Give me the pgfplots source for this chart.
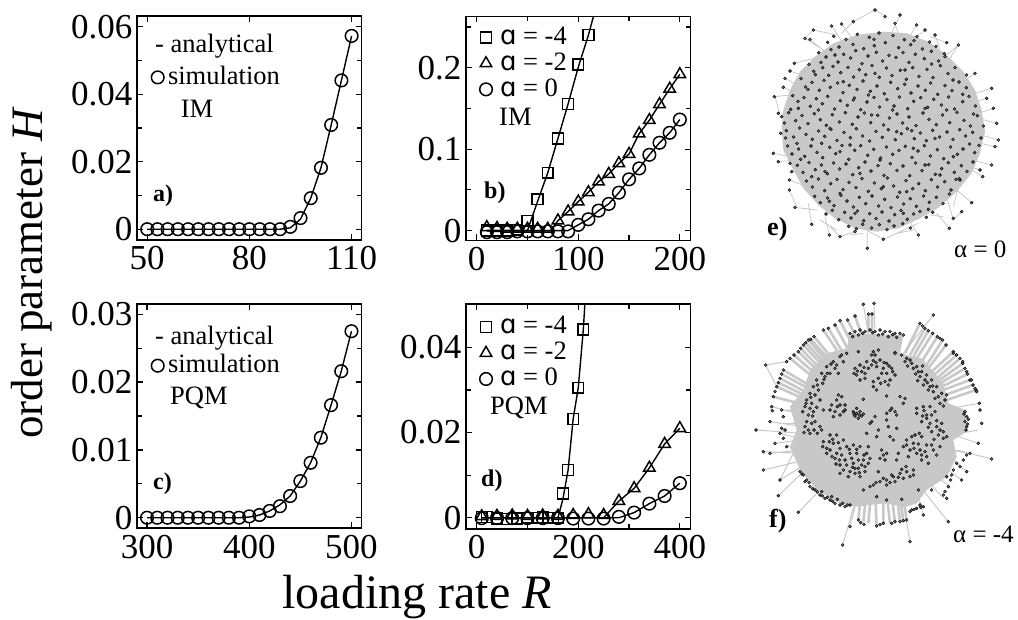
\documentclass[border=0pt]{standalone}
\usepackage{pgfplots}
\pgfplotsset{compat=1.18}
\usepackage{fontspec}
\setmainfont{Liberation Serif}
\newfontfamily\djv{DejaVu Sans}
\newcommand{\fs}[1]{\fontsize{#1}{#1}\selectfont}
\newcommand{\alp}{{\djv\fontsize{26}{26}\selectfont ɑ}}
\pgfplotsset{
 panel/.style={scale only axis,width=224.5pt,height=224pt,axis line style={line width=1.7pt},
  tick style={black,line width=1.2pt},major tick length=6pt,minor tick length=5pt,tick align=inside,
  xtick pos=both,ytick pos=both,clip=true,scaled ticks=false,
  tick label style={font=\fs{35}},
  xticklabel style={yshift=-3pt},yticklabel style={xshift=-1pt},
  legend cell align=left,
  legend style={draw=none,fill=none,inner sep=0pt,outer sep=0pt,font=\fs{26.5},
   nodes={inner sep=0pt,text height=18pt,text depth=8pt,anchor=base west},
   /tikz/column 1/.style={column sep=0pt}},
  legend image post style={line width=1.5pt}},
 ser/.style={black,line width=1.5pt,only marks,mark options={solid,fill=none}},
 cur/.style={black,line width=1.4pt,no marks,forget plot},
 c/.style={ser,mark=o,mark size=6.3pt},
 s/.style={ser,mark=square,mark size=5.4pt},
 t/.style={ser,mark=triangle,mark size=6.6pt},
 li1/.style={legend image code/.code={\draw[##1] plot coordinates {(6.7pt,7pt)};\path[draw=none] (0,0)--(17pt,0);}},
 li2/.style={legend image code/.code={\draw[##1] plot coordinates {(7pt,7pt)};\path[draw=none] (0,0)--(21pt,0);}},
 net/.style={scale only axis,width=278pt,height=290pt,xmin=0,xmax=834,ymin=0,ymax=870,y dir=reverse,hide axis,clip=false,unbounded coords=jump},
 edge/.style={color={rgb,255:red,200;green,200;blue,200},line width=#1,no marks},
 blob/.style={draw=none,fill={rgb,255:red,200;green,200;blue,200}},
 dot/.style={only marks,mark=*,mark size=1.5pt,mark options={draw=none,fill={rgb,255:red,102;green,102;blue,102}}}
}
\begin{document}
\begin{tikzpicture}[x=1pt,y=1pt]
\path[use as bounding box] (0,0) rectangle (1018,619);
% a
\begin{axis}[panel,li1,at={(137pt,379pt)},anchor=south west,xmin=47,xmax=112.9,ymin=-0.0032,ymax=0.0632,
 xtick={50,80,110},xticklabels={50,80,110},ytick={0,0.02,0.04,0.06},yticklabels={0,0.02,0.04,0.06},
 minor ytick={0.01,0.03,0.05},
 legend style={at={(rel axis cs:0.0624,0.775)},anchor=north west}]
\addplot[cur] coordinates {(50,0)(89,0)(92,0.0004)(95,0.0030)(98,0.0092)(101,0.0182)(104,0.0309)(107,0.0441)(110,0.0573)};
\addplot[c] coordinates {(50,0)(53,0)(56,0)(59,0)(62,0)(65,0)(68,0)(71,0)(74,0)(77,0)(80,0)(83,0)(86,0)(89,0)(92,0.0007)(95,0.0033)(98,0.0092)(101,0.0182)(104,0.0309)(107,0.0441)(110,0.0573)};
\addlegendentry{simulation}
\end{axis}
% b
\begin{axis}[panel,li2,at={(466pt,378.5pt)},anchor=south west,xmin=-10.5,xmax=210.5,ymin=-0.0122,ymax=0.2628,
 xtick={0,100,200},xticklabels={0,100,200},minor xtick={50,150},ytick={0,0.1,0.2},yticklabels={0,0.1,0.2},minor ytick={0.05,0.15,0.25},
 legend style={at={(rel axis cs:0.058,0.956)},anchor=north west}]
\addplot[cur] coordinates {(10,0)(50,0)(60,0.036)(70,0.071)(80,0.113)(90,0.1555)(100,0.2005)(110,0.24)(115,0.263)};
\addplot[cur] coordinates {(10,0)(73,0)(80,0.0122)(90,0.0233)(100,0.0355)(110,0.0469)(120,0.06)(130,0.0694)(140,0.0824)(150,0.094)(160,0.119)(170,0.1355)(180,0.155)(190,0.174)(200,0.1918)};
\addplot[cur] coordinates {(10,0)(90,0)(100,0.007)(110,0.0139)(120,0.0245)(130,0.0327)(140,0.0465)(150,0.0629)(160,0.0763)(170,0.093)(180,0.1078)(190,0.12)(200,0.1363)};
\addplot[s] coordinates {(10,0)(20,0)(30,0)(40,0.001)(50,0.012)(60,0.0384)(70,0.071)(80,0.113)(90,0.1555)(100,0.2037)(110,0.24)};
\addlegendentry{\alp{} = -4}
\addplot[t] coordinates {(10,0.004)(20,0.003)(30,0.002)(40,0.002)(50,0.002)(60,0.002)(70,0.002)(80,0.0122)(90,0.0233)(100,0.0355)(110,0.0469)(120,0.06)(130,0.0694)(140,0.0824)(150,0.094)(160,0.119)(170,0.1355)(180,0.155)(190,0.174)(200,0.1918)};
\addlegendentry{\alp{} = -2}
\addplot[c] coordinates {(10,-0.002)(20,-0.002)(30,-0.002)(40,-0.001)(50,-0.001)(60,-0.001)(70,-0.001)(80,-0.001)(90,-0.001)(100,0.007)(110,0.0139)(120,0.0245)(130,0.0327)(140,0.0465)(150,0.0629)(160,0.0763)(170,0.093)(180,0.1078)(190,0.12)(200,0.1363)};
\addlegendentry{\alp{} = 0}
\end{axis}
% c
\begin{axis}[panel,li1,at={(137pt,90.7pt)},anchor=south west,xmin=290.2,xmax=509.8,ymin=-0.00156,ymax=0.03147,
 xtick={300,400,500},xticklabels={300,400,500},ytick={0,0.01,0.02,0.03},yticklabels={0,0.01,0.02,0.03},minor ytick={0.005,0.015,0.025},
 legend style={at={(rel axis cs:0.0624,0.775)},anchor=north west}]
\addplot[cur] coordinates {(300,0)(390,0)(400,0.0001)(410,0.0004)(420,0.001)(430,0.0019)(440,0.0032)(450,0.0054)(460,0.0081)(470,0.0118)(480,0.0166)(490,0.0216)(500,0.0275)};
\addplot[c] coordinates {(300,0)(310,0)(320,0)(330,0)(340,0)(350,0)(360,0)(370,0)(380,0)(390,0)(400,0.0002)(410,0.0004)(420,0.001)(430,0.0017)(440,0.0032)(450,0.0054)(460,0.0081)(470,0.0118)(480,0.0166)(490,0.0216)(500,0.0275)};
\addlegendentry{simulation}
\end{axis}
% d
\begin{axis}[panel,li2,at={(466pt,90pt)},anchor=south west,xmin=-21,xmax=421,ymin=-0.00265,ymax=0.0501,height=224.7pt,
 xtick={0,200,400},xticklabels={0,200,400},minor xtick={100,300},ytick={0,0.02,0.04},yticklabels={0,0.02,0.04},minor ytick={0.01,0.03},
 legend style={at={(rel axis cs:0.058,0.948)},anchor=north west}]
\addplot[cur] coordinates {(10,0)(160,0)(170,0.0045)(180,0.0112)(190,0.0232)(200,0.0305)(210,0.0442)(213,0.0502)};
\addplot[cur] coordinates {(10,0)(250,0)(280,0.0039)(310,0.0069)(340,0.0117)(370,0.0173)(400,0.021)};
\addplot[cur] coordinates {(10,0)(280,0)(310,0.0012)(340,0.0033)(370,0.0051)(400,0.0081)};
\addplot[s] coordinates {(10,0.0002)(20,0.0002)(40,-0.0002)(60,-0.0003)(80,-0.0002)(100,0)(120,0)(130,0.0001)(140,0)(150,0)(160,0)(170,0.0057)(180,0.0112)(190,0.0232)(200,0.0305)(210,0.0442)};
\addlegendentry{\alp{} = -4}
\addplot[t] coordinates {(10,0.0003)(40,0.0004)(70,0.0005)(100,0.0004)(130,0.0005)(160,0.0004)(190,0.0006)(220,0.0008)(250,0.0006)(280,0.0039)(310,0.0069)(340,0.0117)(370,0.0173)(400,0.021)};
\addlegendentry{\alp{} = -2}
\addplot[c] coordinates {(10,-0.0001)(40,-0.0001)(70,-0.0001)(100,-0.0001)(130,-0.0001)(160,-0.0001)(190,-0.0002)(220,-0.0002)(250,-0.0002)(280,0.0002)(310,0.0012)(340,0.0033)(370,0.0051)(400,0.0081)};
\addlegendentry{\alp{} = 0}
\end{axis}
% e network
\begin{axis}[net,at={(740pt,619pt)},anchor=north west]
\addplot[blob] coordinates {(430,95)(500,100)(565,125)(620,165)(670,215)(705,270)(725,330)(735,395)(720,460)(695,520)(650,575)(600,620)(540,655)(475,685)(410,695)(345,685)(285,655)(235,615)(190,565)(160,510)(130,450)(125,390)(130,330)(150,270)(180,215)(225,170)(280,130)(350,105)} --cycle;
\addplot[edge=0.8pt] coordinates {(340,65)(405,30)(440,50)(nan,nan)(480,45)(450,110)(nan,nan)(220,90)(195,115)(250,150)(nan,nan)(220,90)(290,105)(nan,nan)(103,290)(150,285)(nan,nan)(755,265)(690,285)(nan,nan)(770,370)(715,355)(nan,nan)(775,420)(705,400)(nan,nan)(765,440)(700,425)(nan,nan)(755,495)(695,480)(nan,nan)(728,530)(680,500)(nan,nan)(695,608)(650,570)(nan,nan)(665,635)(640,660)(620,590)(nan,nan)(628,685)(590,640)(nan,nan)(535,705)(500,650)(nan,nan)(430,718)(380,690)(nan,nan)(382,745)(382,690)(nan,nan)(300,710)(270,680)(nan,nan)(215,673)(205,610)(nan,nan)(165,622)(230,630)(nan,nan)(148,570)(170,620)(nan,nan)(100,460)(150,470)(nan,nan)(115,485)(170,480)(nan,nan)(125,340)(160,350)(nan,nan)(135,235)(180,260)(nan,nan)(163,190)(220,175)(nan,nan)(655,135)(620,190)(nan,nan)(620,128)(570,110)(nan,nan)(555,90)(520,120)(nan,nan)(430,718)(535,670)(nan,nan)(300,710)(345,695)(nan,nan)(268,705)(255,650)(nan,nan)(345,60)(305,100)(nan,nan)(120,345)(105,290)(nan,nan)(305,72)(340,120)(nan,nan)(275,78)(310,130)(nan,nan)(210,118)(260,160)(nan,nan)(150,213)(200,230)(nan,nan)(130,262)(170,280)(nan,nan)(122,400)(160,410)(nan,nan)(155,515)(190,520)(nan,nan)(148,540)(200,560)(nan,nan)(740,295)(690,310)(nan,nan)(760,325)(715,340)(nan,nan)(705,220)(660,250)(nan,nan)(680,225)(650,240)(nan,nan)(720,510)(690,500)(nan,nan)(660,540)(640,620)(nan,nan)(530,75)(500,125)(nan,nan)(465,70)(480,120)(nan,nan)(585,105)(600,150)(nan,nan)(615,170)(655,135)(nan,nan)(570,645)(610,650)(nan,nan)(470,700)(520,690)(nan,nan)(330,705)(370,700)(nan,nan)(240,660)(290,690)};
\addplot[dot] coordinates {(405,30)(340,65)(480,45)(435,50)(465,70)(530,75)(555,90)(585,105)(620,128)(655,135)(615,170)(305,72)(275,78)(220,90)(195,115)(210,118)(163,190)(150,213)(135,235)(130,262)(103,290)(115,340)(125,350)(122,400)(100,460)(115,485)(155,515)(148,540)(148,570)(165,622)(215,673)(268,705)(300,710)(345,695)(382,745)(430,718)(535,705)(628,685)(665,635)(640,655)(695,608)(728,530)(755,495)(765,440)(775,420)(770,370)(760,325)(755,265)(705,220)(680,225)(740,295)(720,510)(660,540)
(263,127)(281,109)(297,141)(318,118)(339,133)(352,103)(371,146)(388,112)(403,137)(417,99)(436,128)(459,107)(476,143)(493,119)(512,134)(531,110)(547,147)(569,126)(588,139)(236,158)(258,171)(273,149)(294,186)(311,163)(332,174)(347,152)(366,191)(384,168)(409,157)(428,183)(447,166)(468,172)(489,158)(507,187)(526,163)(553,176)(574,154)(596,183)(613,161)(207,193)(221,214)(243,187)(266,226)(279,199)(302,218)(324,202)(341,231)(358,209)(377,224)(396,197)(418,232)(439,204)(456,227)(481,211)(499,238)(518,203)(537,229)(561,208)(579,233)(601,197)(624,221)(645,203)(183,236)(197,261)(216,247)(238,271)(252,241)(271,262)(293,249)(309,278)(328,256)(351,268)(369,243)(391,274)(411,258)(433,281)(452,247)(473,266)(494,253)(513,279)(534,258)(556,271)(572,249)(593,283)(615,257)(636,272)(657,246)(679,263)
(158,287)(174,304)(192,293)(211,319)(229,296)(247,311)(263,289)(284,327)(301,302)(322,316)(343,294)(362,329)(381,306)(402,292)(419,321)(441,299)(462,318)(478,291)(503,326)(521,304)(542,293)(563,322)(581,298)(604,315)(626,291)(644,327)(668,305)(687,289)(706,318)(146,338)(167,362)(186,347)(204,371)(223,341)(241,359)(259,376)(277,344)(298,366)(316,338)(337,373)(354,351)(373,339)(392,368)(413,346)(431,375)(448,354)(471,342)(488,369)(507,351)(528,377)(549,339)(567,358)(589,374)(608,345)(629,368)(651,337)(672,361)(691,378)(712,347)(139,392)(161,411)(179,384)(198,403)(217,418)(236,393)(254,409)(273,388)(291,421)(312,397)(331,413)(349,386)(368,408)(389,423)(408,394)(427,412)(445,389)(466,419)(484,401)(502,386)(523,416)(541,399)(559,422)(578,391)(599,411)(621,396)(639,418)(659,389)(677,408)(698,397)(723,414)
(143,438)(156,462)(176,447)(194,469)(213,438)(231,457)(248,473)(269,442)(287,461)(306,436)(326,478)(344,451)(362,437)(383,466)(401,448)(422,474)(439,441)(458,463)(477,451)(496,439)(516,472)(534,453)(553,437)(571,468)(592,449)(611,476)(632,441)(652,463)(669,447)(689,432)(704,458)(172,496)(189,517)(207,488)(226,509)(244,495)(262,521)(281,489)(299,507)(318,492)(338,524)(356,503)(375,486)(393,513)(414,497)(432,526)(451,491)(471,511)(489,498)(509,527)(527,489)(546,512)(566,494)(586,523)(605,506)(625,488)(643,517)(664,497)(681,514)(199,543)(217,561)(235,537)(254,572)(272,551)(291,538)(309,569)(327,547)(348,563)(366,536)(385,574)(403,549)(424,566)(442,534)(461,558)(479,577)(498,542)(518,566)(536,551)(556,572)(574,539)(593,561)(614,545)(633,570)(648,538)
(224,589)(241,608)(263,594)(282,617)(303,586)(321,603)(340,621)(358,592)(377,611)(396,588)(416,618)(434,598)(453,623)(472,591)(491,612)(511,596)(529,619)(551,588)(568,607)(589,592)(609,611)(258,642)(277,631)(296,659)(314,637)(333,654)(352,633)(371,662)(389,641)(408,656)(426,636)(447,663)(464,644)(483,631)(502,658)(521,642)(540,634)(559,652)(578,637)(326,679)(349,686)(368,673)(395,684)(418,674)(441,689)(462,678)(488,671)(511,684)
(152,328)(133,369)(171,430)(204,268)(137,414)(226,224)(248,203)(285,165)(402,118)(522,122)(575,192)(639,240)(668,283)(700,342)(730,378)(717,436)(699,486)(658,536)(628,582)(565,628)(490,640)(345,640)(268,604)(215,530)(182,478)(150,490)(340,300)(395,345)(458,330)(515,392)(300,455)(360,520)(430,560)(520,445)(585,415)(245,430)(235,330)(310,245)(405,220)(495,210)(555,325)(620,330)(640,470)(555,495)(420,480)(330,435)(255,515)(175,325)(270,385)(470,395)(385,285)(300,580)(500,575)(600,525)};
\end{axis}
% f network
\begin{axis}[net,at={(740pt,329pt)},anchor=north west]
\addplot[blob] coordinates {(330,130)(490,135)(480,190)(545,205)(610,280)(625,340)(675,360)(680,425)(640,450)(650,500)(620,560)(560,600)(530,640)(500,650)(430,640)(350,650)(300,640)(230,600)(180,540)(150,470)(170,420)(150,350)(190,300)(210,240)(260,190)(320,175)} --cycle;
\addplot[edge=2.6pt] coordinates {(385,72)(385,130)(nan,nan)(396,72)(396,130)(nan,nan)(345,78)(365,135)(nan,nan)(323,90)(350,145)(nan,nan)(300,92)(340,170)(nan,nan)(285,105)(325,180)(nan,nan)(265,115)(310,190)(nan,nan)(250,120)(300,195)(nan,nan)(222,140)(285,215)(nan,nan)(212,148)(278,220)(nan,nan)(205,150)(270,225)(nan,nan)(197,158)(265,232)(nan,nan)(190,165)(260,240)(nan,nan)(182,175)(252,248)(nan,nan)(175,185)(245,255)(nan,nan)(162,195)(238,262)(nan,nan)(150,205)(230,270)(nan,nan)(130,240)(215,290)(nan,nan)(125,252)(210,298)(nan,nan)(120,265)(205,310)(nan,nan)(115,278)(203,320)(nan,nan)(110,290)(200,330)(nan,nan)(100,320)(195,345)
(nan,nan)(540,100)(495,190)(nan,nan)(555,115)(510,195)(nan,nan)(565,122)(520,200)(nan,nan)(578,130)(530,205)(nan,nan)(592,140)(545,215)(nan,nan)(608,150)(560,225)(nan,nan)(618,165)(565,235)(nan,nan)(640,185)(575,245)(nan,nan)(650,195)(582,255)(nan,nan)(660,205)(590,265)(nan,nan)(668,220)(596,272)(nan,nan)(675,235)(600,280)(nan,nan)(683,252)(605,290)(nan,nan)(690,270)(610,300)(nan,nan)(699,285)(615,315)(nan,nan)(708,300)(620,330)
(nan,nan)(500,690)(490,620)(nan,nan)(490,692)(480,620)(nan,nan)(480,695)(470,610)(nan,nan)(465,700)(455,610)(nan,nan)(450,700)(440,610)(nan,nan)(430,700)(430,610)(nan,nan)(410,708)(405,600)(nan,nan)(385,700)(395,590)(nan,nan)(370,695)(380,600)(nan,nan)(355,690)(365,590)};
\addplot[edge=1pt] coordinates {(370,43)(385,130)(nan,nan)(402,40)(405,130)(nan,nan)(580,75)(490,190)(nan,nan)(718,340)(630,355)
(nan,nan)(715,420)(630,435)(nan,nan)(715,460)(625,430)(nan,nan)(690,490)(630,480)(nan,nan)(755,507)(650,480)(nan,nan)(680,545)(630,500)(nan,nan)(665,570)(610,530)(nan,nan)(630,590)(590,560)(nan,nan)(610,625)(570,580)(nan,nan)(625,695)(540,590)(nan,nan)(550,675)(530,600)
(nan,nan)(510,755)(490,640)(nan,nan)(308,765)(350,620)(nan,nan)(330,710)(355,610)
(nan,nan)(175,667)(240,600)(nan,nan)(115,617)(190,545)(nan,nan)(120,570)(200,520)(nan,nan)(70,540)(195,510)(nan,nan)(90,490)(185,480)(nan,nan)(70,485)(190,490)(nan,nan)(48,420)(185,430)(nan,nan)(105,460)(185,450)(nan,nan)(90,395)(190,410)(nan,nan)(95,350)(190,375)(nan,nan)(120,400)(190,400)(nan,nan)(160,490)(120,570)(nan,nan)(77,225)(140,215)(nan,nan)(77,225)(110,290)(nan,nan)(120,430)(180,445)(nan,nan)(125,360)(190,360)(nan,nan)(140,470)(190,460)};
\addplot[dot] coordinates {(370,43)(402,40)(385,72)(396,72)(345,78)(323,90)(300,92)(285,105)(265,115)(250,120)(222,140)(212,148)(205,150)(197,158)(190,165)(182,175)(175,185)(162,195)(150,205)(140,215)(77,225)(130,240)(125,252)(120,265)(115,278)(110,290)(105,305)(100,320)(95,350)(97,362)(90,395)(48,420)(105,460)(90,490)(70,485)(70,540)(120,570)(115,617)(175,667)(308,765)(330,710)(510,755)(625,695)(550,675)(755,507)(715,460)(690,490)(680,545)(665,570)(718,340)(580,75)(540,100)(548,108)(555,115)(565,122)(578,130)(592,140)(600,145)(608,150)(618,165)(640,185)(650,195)(660,205)(668,220)(675,235)(683,252)(690,270)(699,285)(708,300)
(330,130)(345,125)(360,120)(375,125)(390,120)(405,125)(420,120)(435,125)(450,125)(465,130)(480,130)(490,135)(338,140)(355,135)(368,130)(398,128)(415,135)(428,132)(445,140)(458,134)(470,142)
(640,190)(650,195)(668,215)(680,245)(695,270)(705,295)(710,305)(675,365)(680,380)(675,395)(680,410)(678,420)(672,372)(685,388)(683,402)(720,360)(725,400)(120,430)(130,445)(140,470)(130,380)(125,360)(135,420)(125,415)
(180,545)(186,552)(190,555)(200,570)(207,578)(210,590)(218,596)(225,600)(232,606)(240,615)(248,618)(255,625)(262,622)(270,630)(278,634)(285,640)(292,628)(300,645)(308,640)(315,650)(322,645)(330,645)(195,575)(245,605)(275,620)
(355,690)(362,698)(372,703)(410,708)(420,704)(430,700)(455,700)(465,695)(480,695)(490,692)(500,690)(510,665)(515,660)(522,658)(530,655)(542,652)(550,650)(540,645)
(620,625)(610,615)(625,590)(632,570)(640,540)(650,520)(620,560)(680,495)(670,510)(615,605)(635,555)(660,530)
(400,185)(415,180)(405,195)(465,188)(355,185)(395,195)
(485,195)(500,205)(515,220)(530,230)(545,245)(560,255)(575,270)(590,290)(605,310)(615,330)(510,210)(535,245)(555,270)(570,290)(595,320)(540,260)(580,305)(495,215)(520,235)(550,285)(565,300)(600,340)(620,315)(503,228)(527,252)(548,228)(562,278)(585,325)(610,348)(578,288)(533,272)
(320,190)(300,200)(280,215)(260,230)(245,250)(230,270)(220,290)(210,310)(200,330)(195,350)(215,340)(235,300)(255,260)(285,235)(310,215)(270,250)(240,330)(205,375)(215,400)(205,420)(225,395)(240,410)(210,430)(290,225)(305,195)(262,250)(225,315)(210,355)(200,395)(222,420)(248,280)(295,250)(195,410)(220,365)(273,222)(252,268)(232,285)(212,322)(188,365)(198,340)(230,352)(218,378)(232,430)(192,428)(245,420)
(345,235)(360,225)(380,215)(400,212)(420,210)(440,220)(455,235)(465,255)(350,255)(365,245)(385,235)(410,230)(430,235)(440,250)(450,270)(360,270)(375,265)(415,265)(435,275)(400,290)(410,300)(372,232)(395,225)(432,218)(458,245)(375,250)(425,250)(400,275)(445,285)(352,243)(408,218)(447,228)(422,280)(342,250)
(275,345)(290,330)(305,320)(315,345)(285,365)(300,375)(310,365)(300,345)(250,360)(370,328)(440,318)(295,315)(280,380)(315,360)(292,350)(270,360)
(340,365)(350,355)(360,365)(345,378)(355,385)(365,378)(350,370)(370,372)(358,375)(342,372)
(455,355)(440,370)(465,365)(440,390)(470,375)(405,380)(450,362)
(480,320)(495,325)(490,340)(530,370)(550,350)(570,350)(585,365)(560,375)(545,395)(570,400)(590,410)(610,425)(620,440)(595,435)(575,425)(560,385)(605,400)(530,355)(552,362)(575,375)(590,392)(600,420)(565,412)(548,378)(582,448)(610,445)
(270,435)(290,435)(310,450)(250,455)(260,475)(280,460)(300,475)(320,470)(340,465)(360,470)(380,490)(260,490)(285,505)(305,495)(330,490)(350,490)(370,510)(385,520)(300,525)(320,525)(340,520)(355,535)(375,530)(345,550)(360,560)(330,545)(300,550)(385,470)(415,420)(380,430)(390,400)(410,440)(278,448)(295,458)(270,480)(290,490)(315,510)(335,505)(355,510)(365,525)(345,535)(325,560)(375,545)(310,540)(268,455)(248,470)(276,500)(298,510)(328,478)(350,478)(372,495)(390,505)(338,532)(358,548)(288,522)
(425,480)(440,490)(420,505)(435,510)(475,490)(470,510)(450,440)(460,450)(445,410)(470,415)(430,495)
(500,450)(520,460)(510,480)(530,490)(545,440)(560,465)(540,480)(560,500)(545,510)(580,480)(600,470)(505,500)(525,435)(490,470)(515,440)(535,462)(555,485)(575,465)(500,465)(522,475)(545,495)(565,520)(590,495)(538,430)
(400,585)(420,575)(440,570)(460,560)(480,550)(500,545)(520,540)(440,585)(465,575)(490,565)(510,560)(520,555)(390,590)(415,545)(430,565)(450,578)(475,562)(498,530)(408,578)(455,555)(485,538)
(370,600)(410,620)(440,630)(485,628)(535,600)(575,600)(395,395)(465,190)};
\end{axis}
% text
\begin{scope}[every node/.append style={inner sep=0pt}]
\node[anchor=base west,font=\fs{26.5}] at (155,566) {- analytical};
\node[anchor=base west,font=\fs{26.5}] at (180.7,501) {IM};
\node[anchor=base west,font=\bfseries\fs{24}] at (153,417) {a)};
\node[anchor=base west,font=\fs{26.5}] at (499,493) {IM};
\node[anchor=base west,font=\bfseries\fs{24}] at (484,420) {b)};
\node[anchor=base west,font=\fs{26.5}] at (155,274) {- analytical};
\node[anchor=base west,font=\fs{26.5}] at (170,214) {PQM};
\node[anchor=base west,font=\bfseries\fs{24}] at (153,129) {c)};
\node[anchor=base west,font=\fs{26.5}] at (490,204) {PQM};
\node[anchor=base west,font=\bfseries\fs{24}] at (481,132) {d)};
\node[anchor=base west,font=\bfseries\fs{26}] at (767,383) {e)};
\node[anchor=base west,font=\bfseries\fs{26}] at (769,91) {f)};
\node[anchor=base west,font=\fs{25}] at (954,361) {α = 0};
\node[anchor=base west,font=\fs{25}] at (953,76) {α = -4};
\node[rotate=90,anchor=base,font=\fs{45}] at (43,346) {order parameter \textit{H}};
\node[anchor=base,font=\fs{48}] at (417,10.5) {loading rate \textit{R}};
\end{scope}
\end{tikzpicture}
\end{document}
